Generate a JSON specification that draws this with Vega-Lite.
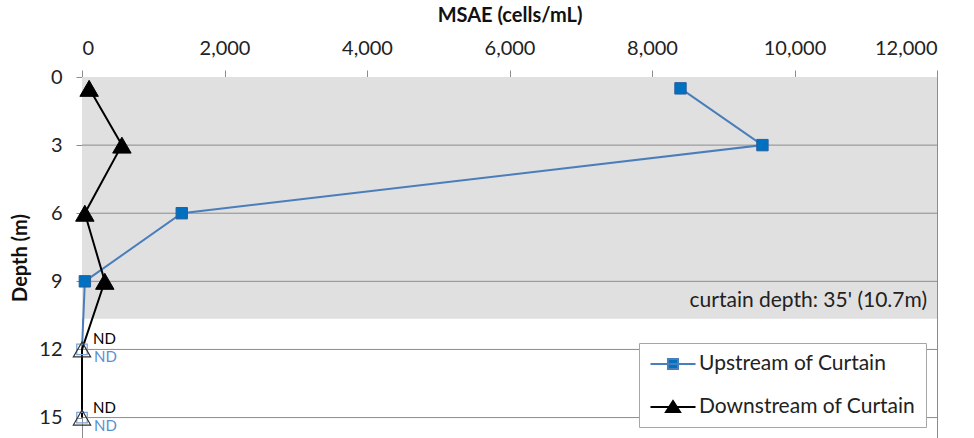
{
  "$schema": "https://vega.github.io/schema/vega-lite/v6.json",
  "autosize": {"type": "none"},
  "padding": {"left": 82, "top": 77, "right": 37, "bottom": 0},
  "width": 855,
  "height": 361,
  "background": "white",
  "config": {
    "font": "Lato",
    "view": {"stroke": "#8c8c8c", "strokeWidth": 1}
  },
  "datasets": {
    "obs": [
      {"series": "Upstream of Curtain", "depth": 0.5, "msae": 8400, "nd": false},
      {"series": "Upstream of Curtain", "depth": 3, "msae": 9550, "nd": false},
      {"series": "Upstream of Curtain", "depth": 6, "msae": 1400, "nd": false},
      {"series": "Upstream of Curtain", "depth": 9, "msae": 40, "nd": false},
      {"series": "Upstream of Curtain", "depth": 12, "msae": 0, "nd": true},
      {"series": "Upstream of Curtain", "depth": 15, "msae": 0, "nd": true},
      {"series": "Downstream of Curtain", "depth": 0.5, "msae": 100, "nd": false},
      {"series": "Downstream of Curtain", "depth": 3, "msae": 560, "nd": false},
      {"series": "Downstream of Curtain", "depth": 6, "msae": 40, "nd": false},
      {"series": "Downstream of Curtain", "depth": 9, "msae": 320, "nd": false},
      {"series": "Downstream of Curtain", "depth": 12, "msae": 0, "nd": true},
      {"series": "Downstream of Curtain", "depth": 15, "msae": 0, "nd": true}
    ],
    "curtain": [{"top": 0, "bottom": 10.65, "label": "curtain depth: 35' (10.7m)"}],
    "grid": [{"depth": 3}, {"depth": 6}, {"depth": 9}, {"depth": 12}, {"depth": 15}]
  },
  "layer": [
    {
      "data": {"name": "curtain"},
      "mark": {"type": "rect", "fill": "#e0e0e0"},
      "encoding": {
        "x": {
          "datum": 0,
          "type": "quantitative",
          "scale": {"domain": [0, 12000], "nice": false},
          "axis": {
            "orient": "top",
            "title": "MSAE (cells/mL)",
            "titleFontSize": 20,
            "titleFontWeight": "bold",
            "titleColor": "#111",
            "titlePadding": 13,
            "labelFontSize": 20,
            "labelColor": "#222",
            "labelPadding": 12,
            "labelExpr": "format(datum.value, ',')",
            "values": [0, 2000, 4000, 6000, 8000, 10000, 12000],
            "tickSize": 7,
            "tickColor": "#8c8c8c",
            "domainColor": "#8c8c8c",
            "grid": false
          }
        },
        "x2": {"datum": 12000},
        "y": {
          "field": "top",
          "type": "quantitative",
          "scale": {"domain": [0, 15.9], "nice": false, "reverse": true},
          "axis": {
            "title": "Depth (m)",
            "titleFontSize": 20,
            "titleFontWeight": "bold",
            "titleColor": "#111",
            "titlePadding": 8,
            "labelFontSize": 20,
            "labelColor": "#222",
            "labelPadding": 14,
            "values": [0, 3, 6, 9, 12, 15],
            "tickSize": 6,
            "tickColor": "#8c8c8c",
            "domainColor": "#8c8c8c",
            "grid": false
          }
        },
        "y2": {"field": "bottom"}
      }
    },
    {
      "data": {"name": "grid"},
      "mark": {"type": "rule", "color": "#8c8c8c", "strokeWidth": 1},
      "encoding": {"y": {"field": "depth", "type": "quantitative"}}
    },
    {
      "data": {"name": "curtain"},
      "mark": {"type": "text", "align": "right", "baseline": "bottom", "dx": -10, "dy": -8, "fontSize": 21, "color": "#222"},
      "encoding": {
        "x": {"datum": 12000},
        "y": {"field": "bottom", "type": "quantitative"},
        "text": {"field": "label"}
      }
    },
    {
      "data": {"name": "obs"},
      "transform": [{"filter": "datum.series === 'Upstream of Curtain'"}],
      "mark": {"type": "line", "strokeWidth": 2},
      "encoding": {
        "x": {"field": "msae", "type": "quantitative"},
        "y": {"field": "depth", "type": "quantitative"},
        "order": {"field": "depth"},
        "color": {
          "field": "series",
          "type": "nominal",
          "scale": {"domain": ["Upstream of Curtain", "Downstream of Curtain"], "range": ["#4a7ebb", "#000000"]},
          "legend": {
            "orient": "none",
            "legendX": 557,
            "legendY": 266,
            "title": null,
            "padding": 10,
            "strokeColor": "#a6a6a6",
            "fillColor": "white",
            "symbolSize": 400,
            "symbolStrokeWidth": 2,
            "symbolOffset": 13,
            "labelOffset": 15,
            "labelFontSize": 21,
            "labelLimit": 400,
            "labelColor": "#222",
            "rowPadding": 22,
            "encode": {
              "symbols": {
                "update": {
                  "shape": {"signal": "datum.value === 'Upstream of Curtain' ? 'M-2.25,0H2.25M-0.5,-0.5H0.5V0.5H-0.5Z' : 'M-2.25,0H2.25M0,-0.6L0.7,0.5H-0.7Z'"},
                  "fill": {"signal": "datum.value === 'Upstream of Curtain' ? '#0070c0' : '#000000'"}
                }
              }
            }
          }
        }
      }
    },
    {
      "data": {"name": "obs"},
      "transform": [{"filter": "datum.series === 'Downstream of Curtain'"}],
      "mark": {"type": "line", "strokeWidth": 2},
      "encoding": {
        "x": {"field": "msae", "type": "quantitative"},
        "y": {"field": "depth", "type": "quantitative"},
        "order": {"field": "depth"},
        "color": {"field": "series", "type": "nominal"}
      }
    },
    {
      "data": {"name": "obs"},
      "transform": [{"filter": "datum.series === 'Upstream of Curtain' && !datum.nd"}],
      "mark": {"type": "point", "shape": "square", "filled": true, "fill": "#0070c0", "stroke": "#2a5f9e", "strokeWidth": 1, "size": 130, "opacity": 1},
      "encoding": {
        "x": {"field": "msae", "type": "quantitative"},
        "y": {"field": "depth", "type": "quantitative"}
      }
    },
    {
      "data": {"name": "obs"},
      "transform": [{"filter": "datum.series === 'Upstream of Curtain' && datum.nd"}],
      "mark": {"type": "point", "shape": "square", "filled": false, "stroke": "#7fa6d6", "strokeWidth": 1.3, "size": 110, "opacity": 1},
      "encoding": {
        "x": {"field": "msae", "type": "quantitative"},
        "y": {"field": "depth", "type": "quantitative"}
      }
    },
    {
      "data": {"name": "obs"},
      "transform": [{"filter": "datum.series === 'Downstream of Curtain' && !datum.nd"}],
      "mark": {"type": "point", "shape": "triangle-up", "filled": true, "fill": "#000000", "stroke": "#000000", "strokeWidth": 1, "size": 340, "opacity": 1},
      "encoding": {
        "x": {"field": "msae", "type": "quantitative"},
        "y": {"field": "depth", "type": "quantitative"}
      }
    },
    {
      "data": {"name": "obs"},
      "transform": [{"filter": "datum.series === 'Downstream of Curtain' && datum.nd"}],
      "mark": {"type": "point", "shape": "triangle-up", "filled": false, "stroke": "#303030", "strokeWidth": 1.2, "size": 300, "opacity": 1},
      "encoding": {
        "x": {"field": "msae", "type": "quantitative"},
        "y": {"field": "depth", "type": "quantitative"}
      }
    },
    {
      "data": {"name": "obs"},
      "transform": [{"filter": "datum.series === 'Downstream of Curtain' && datum.nd"}],
      "mark": {"type": "text", "align": "left", "baseline": "middle", "dx": 11, "dy": -10, "fontSize": 15, "color": "#000000"},
      "encoding": {
        "x": {"field": "msae", "type": "quantitative"},
        "y": {"field": "depth", "type": "quantitative"},
        "text": {"value": "ND"}
      }
    },
    {
      "data": {"name": "obs"},
      "transform": [{"filter": "datum.series === 'Upstream of Curtain' && datum.nd"}],
      "mark": {"type": "text", "align": "left", "baseline": "middle", "dx": 12, "dy": 8, "fontSize": 15, "color": "#5b8fd0"},
      "encoding": {
        "x": {"field": "msae", "type": "quantitative"},
        "y": {"field": "depth", "type": "quantitative"},
        "text": {"value": "ND"}
      }
    }
  ]
}
